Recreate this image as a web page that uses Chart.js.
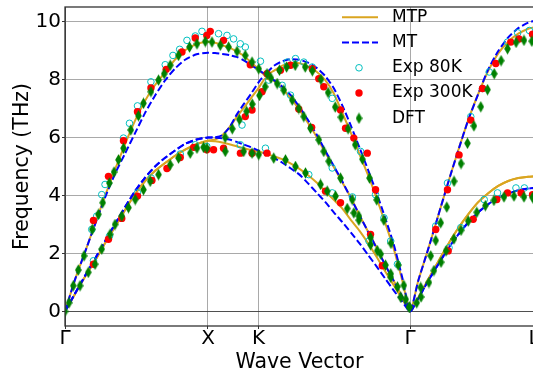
<!DOCTYPE html>
<html><head><meta charset="utf-8">
<script src="https://cdn.jsdelivr.net/npm/chart.js@4.4.0/dist/chart.umd.min.js"></script>
<style>
html,body{margin:0;padding:0;overflow:hidden;background:#fff;width:533px;height:375px;}
canvas{display:block;}
</style></head><body>
<canvas id="c" width="545" height="375" style="width:545px;height:375px"></canvas>
<script>
// ---- axis ticks ----
const xTickPositions = [0, 1, 1.3536, 2.4142, 3.2802];
const xTickLabels = ['Γ', 'X', 'K', 'Γ', 'L'];
const yTickValues = [0, 2, 4, 6, 8, 10];

// ---- wave-vector path samples (Γ-X, X-K, K-Γ, Γ-L) ----
const kPath = [0, 0.07, 0.14, 0.21, 0.28, 0.35, 0.42, 0.49, 0.56, 0.63, 0.70, 0.77, 0.84, 0.92, 1.0,
  1.05, 1.10, 1.15, 1.20, 1.25, 1.30, 1.3536,
  1.40, 1.46, 1.52, 1.58, 1.64, 1.70, 1.76, 1.82, 1.88, 1.94, 2.00, 2.06, 2.12, 2.18, 2.24, 2.30, 2.36, 2.4142,
  2.47, 2.54, 2.61, 2.68, 2.75, 2.82, 2.89, 2.96, 3.03, 3.10, 3.17, 3.24, 3.2802];

// ---- MTP bands (THz) ----
const mtpBand1 = [0, 0.6, 1.2, 1.75, 2.35, 2.92, 3.5, 4.05, 4.5, 4.85, 5.12, 5.37, 5.58, 5.77, 5.89,
  5.87, 5.83, 5.77, 5.7, 5.63, 5.57, 5.52,
  5.45, 5.35, 5.25, 5.1, 4.92, 4.7, 4.45, 4.15, 3.85, 3.55, 3.15, 2.78, 2.35, 1.88, 1.38, 0.9, 0.42, 0,
  0.47, 1.1, 1.72, 2.32, 2.87, 3.35, 3.77, 4.08, 4.33, 4.5, 4.6, 4.65, 4.66];
const mtpBand2 = [0, 0.6, 1.2, 1.75, 2.35, 2.92, 3.5, 4.05, 4.5, 4.85, 5.12, 5.37, 5.58, 5.77, 5.89,
  5.93, 6.08, 6.35, 6.7, 7.02, 7.35, 7.7,
  8.03, 7.95, 7.68, 7.35, 6.95, 6.5, 6.02, 5.48, 4.98, 4.45, 3.92, 3.32, 2.75, 2.2, 1.6, 1.05, 0.5, 0,
  0.47, 1.1, 1.72, 2.32, 2.87, 3.35, 3.77, 4.08, 4.33, 4.5, 4.6, 4.65, 4.66];
const mtpBand3 = [0, 1.1, 2.05, 3.02, 3.99, 4.9, 5.77, 6.58, 7.27, 7.81, 8.25, 8.69, 9.01, 9.22, 9.3,
  9.27, 9.18, 9.1, 8.97, 8.82, 8.6, 8.35,
  8.15, 8.3, 8.48, 8.57, 8.56, 8.45, 8.27, 7.98, 7.52, 6.85, 6.15, 5.42, 4.7, 3.9, 3.05, 2.15, 1.05, 0,
  1.05, 2.15, 3.3, 4.45, 5.55, 6.6, 7.5, 8.3, 8.9, 9.3, 9.58, 9.75, 9.8];

// ---- MT bands (THz) ----
const mtBand1 = [0, 0.62, 1.23, 1.82, 2.42, 3.02, 3.6, 4.15, 4.62, 5.0, 5.3, 5.55, 5.78, 5.93, 6.0,
  5.99, 5.97, 5.93, 5.85, 5.76, 5.67, 5.55,
  5.45, 5.3, 5.13, 4.93, 4.72, 4.42, 4.1, 3.78, 3.42, 3.08, 2.72, 2.35, 1.95, 1.55, 1.13, 0.72, 0.33, 0,
  0.45, 1.05, 1.62, 2.17, 2.65, 3.07, 3.42, 3.7, 3.92, 4.07, 4.18, 4.24, 4.26];
const mtBand2 = [0, 0.62, 1.23, 1.82, 2.42, 3.02, 3.6, 4.15, 4.62, 5.0, 5.3, 5.55, 5.78, 5.93, 6.0,
  6.01, 6.08, 6.35, 6.78, 7.15, 7.5, 7.9,
  8.15, 7.98, 7.75, 7.45, 7.05, 6.6, 6.1, 5.55, 5.02, 4.48, 3.9, 3.32, 2.75, 2.18, 1.6, 1.05, 0.5, 0,
  0.45, 1.05, 1.62, 2.17, 2.65, 3.07, 3.42, 3.7, 3.92, 4.07, 4.18, 4.24, 4.26];
const mtBand3 = [0, 1.1, 2.05, 3.0, 3.93, 4.75, 5.45, 6.15, 6.85, 7.45, 7.97, 8.38, 8.68, 8.87, 8.92,
  8.91, 8.88, 8.84, 8.78, 8.66, 8.5, 8.33,
  8.2, 8.47, 8.63, 8.7, 8.68, 8.58, 8.4, 8.12, 7.7, 7.1, 6.4, 5.65, 4.88, 4.08, 3.22, 2.3, 1.15, 0,
  1.05, 2.15, 3.3, 4.45, 5.55, 6.6, 7.5, 8.35, 8.98, 9.45, 9.77, 9.96, 10.02];

// ---- Exp 80K ----
const exp80kX = [0.187, 0.222, 0.257, 0.280, 0.409, 0.451, 0.507, 0.601, 0.701, 0.755, 0.802, 0.853, 0.911, 0.958,
  0.199, 0.311, 0.507, 0.603, 0.806, 0.911, 0.992,
  1.074, 1.133, 1.179, 1.226, 1.261, 1.367,
  1.238, 1.425, 1.554, 1.612, 1.670, 1.729, 1.869, 2.067, 2.172, 2.231, 2.278, 2.325,
  1.519, 1.577, 1.869, 2.010,
  1.226, 1.402, 1.705, 1.869, 2.126,
  2.593, 2.675, 2.838, 2.920, 2.967, 3.095, 3.166, 3.248,
  2.686, 2.768, 2.932, 3.025, 3.154, 3.213];
const exp80kY = [2.83, 3.29, 4.03, 4.38, 5.98, 6.49, 7.09, 7.92, 8.51, 8.83, 9.04, 9.35, 9.5, 9.66,
  1.75, 2.6, 4.09, 4.6, 5.43, 5.75, 5.69,
  9.58, 9.52, 9.4, 9.23, 9.12, 8.63,
  6.43, 7.98, 8.6, 8.72, 8.6, 8.43, 7.35, 5.52, 4.03, 3.23, 2.43, 1.63,
  7.8, 7.46, 4.95, 3.95,
  5.75, 5.63, 4.72, 4.09, 2.43,
  2.95, 4.43, 6.72, 7.69, 8.26, 9.29, 9.61, 9.69,
  2.2, 2.89, 3.86, 4.09, 4.26, 4.26];

// ---- Exp 300K ----
const exp300kX = [0.199, 0.304, 0.409, 0.507, 0.601, 0.708, 0.818, 0.911, 0.992, 1.016, 1.109,
  0.199, 0.304, 0.397, 0.507, 0.608, 0.713, 0.806, 0.900, 0.992, 1.039,
  1.109, 1.227, 1.308, 1.413, 1.822, 1.927,
  1.296, 1.413, 1.635, 1.725, 2.137, 2.219,
  1.261, 1.308, 1.378, 1.507, 1.577, 1.729, 1.775, 1.810, 1.927, 1.962, 2.020, 2.114, 2.172,
  2.593, 2.675, 2.756, 2.838, 2.920, 3.013, 3.118, 3.175, 3.270,
  2.680, 2.855, 3.020, 3.095, 3.190, 3.270];
const exp300kY = [3.14, 4.66, 5.89, 6.89, 7.71, 8.35, 8.95, 9.43, 9.52, 9.66, 9.35,
  1.63, 2.49, 3.21, 3.98, 4.52, 4.93, 5.31, 5.66, 5.58, 5.58,
  5.63, 5.46, 5.46, 5.46, 4.15, 3.75,
  8.51, 8.2, 6.98, 6.35, 2.66, 1.58,
  6.72, 6.95, 7.58, 8.32, 8.49, 8.37, 8.03, 7.75, 6.95, 6.32, 5.98, 5.46, 4.2,
  2.83, 4.2, 5.4, 6.6, 7.69, 8.55, 9.29, 9.4, 9.56,
  2.09, 3.18, 3.86, 4.09, 4.09, 4.03];

// ---- DFT ----
const dftX = [0.058, 0.093, 0.133, 0.191, 0.233, 0.264, 0.310, 0.343, 0.374, 0.409, 0.460, 0.514, 0.549, 0.601, 0.654, 0.694, 0.736, 0.794, 0.871, 0.923, 0.981,
  0, 0.028, 0.105, 0.163, 0.210, 0.257, 0.315, 0.350, 0.397, 0.444, 0.491, 0.549, 0.596, 0.654, 0.736, 0.794, 0.876, 0.923, 0.969,
  1.028, 1.086, 1.144, 1.203, 1.261, 1.308, 1.355, 1.413, 1.484, 1.530, 1.589, 1.635, 1.670, 1.717, 1.775, 1.810, 1.845, 1.927, 2.009, 2.055, 2.137, 2.208, 2.278, 2.348, 2.406,
  1.12, 1.17, 1.22, 1.27, 1.31, 1.36, 1.40, 1.44, 1.50, 1.55, 1.61, 1.68,
  1.73, 1.79, 1.84, 1.89, 1.93, 1.98, 2.03, 2.08, 2.13, 2.18, 2.23, 2.28, 2.33, 2.37, 2.41,
  0.992, 1.121, 1.250, 1.308, 1.355, 1.460, 1.542, 1.612, 1.682, 1.787, 1.834, 1.892, 1.974, 2.020, 2.055, 2.137, 2.184, 2.242, 2.278, 2.325, 2.383,
  2.488, 2.558, 2.593, 2.628, 2.670, 2.721, 2.770, 2.815, 2.860, 2.908, 2.955, 3.002, 3.050, 3.095, 3.155, 3.210, 3.265,
  2.46, 2.49, 2.545, 2.58, 2.63, 2.665, 2.72, 2.77, 2.82, 2.88, 2.94, 3.00, 3.07, 3.14, 3.21, 3.27];
const dftY = [0.89, 1.43, 1.92, 2.83, 3.35, 3.75, 4.43, 4.81, 5.23, 5.63, 6.26, 6.75, 7.18, 7.58, 7.98, 8.2, 8.49, 8.83, 9.12, 9.23, 9.31,
  0, 0.3, 0.89, 1.35, 1.63, 2.15, 2.66, 3.0, 3.29, 3.58, 3.86, 4.2, 4.49, 4.72, 5.06, 5.29, 5.46, 5.63, 5.66,
  9.29, 9.18, 9.12, 8.97, 8.83, 8.6, 8.37, 8.2, 7.86, 7.63, 7.29, 7.0, 6.72, 6.32, 5.92, 5.52, 5.18, 4.6, 3.86, 3.29, 2.55, 1.98, 1.18, 0.49, 0.15,
  6.0, 6.3, 6.62, 6.9, 7.15, 7.45, 7.75, 8.05, 8.32, 8.43, 8.49, 8.43,
  8.3, 8.0, 7.55, 7.05, 6.7, 6.3, 5.75, 5.25, 4.6, 3.85, 3.15, 2.35, 1.6, 0.9, 0.15,
  5.63, 5.52, 5.52, 5.46, 5.41, 5.29, 5.23, 5.0, 4.78, 4.38, 4.15, 3.98, 3.55, 3.4, 3.15, 2.3, 2.1, 1.6, 1.3, 0.85, 0.42,
  0.83, 1.92, 2.45, 3.06, 3.6, 4.49, 5.1, 5.8, 6.4, 7.06, 7.65, 8.2, 8.65, 9.06, 9.28, 9.35, 9.32,
  0.3, 0.5, 1.0, 1.41, 1.7, 2.09, 2.5, 2.8, 3.12, 3.42, 3.65, 3.83, 3.95, 3.98, 3.95, 3.93];

// ---- styling ----
const FONT = 'DejaVu Sans';
const C_MTP = '#DAA520', C_MT = '#0000FF', C_80 = '#00BFBF', C_300 = '#FF0000', C_DFT = '#008000';
Chart.defaults.font.family = FONT;
Chart.defaults.color = '#000';

function thinDiamond(color) {
  const c = document.createElement('canvas');
  c.width = 7; c.height = 12;
  const g = c.getContext('2d');
  g.fillStyle = color;
  g.beginPath();
  g.moveTo(3.5, 0.3); g.lineTo(6.8, 6); g.lineTo(3.5, 11.7); g.lineTo(0.2, 6);
  g.closePath(); g.fill();
  return c;
}
const diamondImg = thinDiamond(C_DFT);

const toXY = (xs, ys) => xs.map((x, i) => ({x: x, y: ys[i]}));
const bandXY = (band) => kPath.map((x, i) => ({x: x, y: band[i]}));

const lineDs = (band, color, dash, order) => ({
  data: bandXY(band), showLine: true, borderColor: color, borderWidth: 2,
  borderDash: dash, pointRadius: 0, tension: 0.2, order: order
});

const datasets = [
  lineDs(mtpBand1, C_MTP, [], 4), lineDs(mtpBand2, C_MTP, [], 4), lineDs(mtpBand3, C_MTP, [], 4),
  lineDs(mtBand1, C_MT, [7, 3], 3), lineDs(mtBand2, C_MT, [7, 3], 3), lineDs(mtBand3, C_MT, [7, 3], 3),
  {data: toXY(exp80kX, exp80kY), showLine: false, pointStyle: 'circle', pointRadius: 3.3,
   pointBorderColor: C_80, pointBackgroundColor: 'rgba(0,0,0,0)', pointBorderWidth: 1, order: 2},
  {data: toXY(exp300kX, exp300kY), showLine: false, pointStyle: 'circle', pointRadius: 3.7,
   pointBorderColor: C_300, pointBackgroundColor: C_300, pointBorderWidth: 0, order: 1},
  {data: toXY(dftX, dftY), showLine: false, pointStyle: diamondImg, pointRadius: 6, order: 0}
];

const framePlugin = {
  id: 'frame',
  afterDatasetsDraw(chart) {
    const {ctx, chartArea: a} = chart;
    ctx.save();
    ctx.strokeStyle = '#333'; ctx.lineWidth = 1.3; ctx.setLineDash([]);
    ctx.strokeRect(a.left, a.top, a.right - a.left, a.bottom - a.top);
    ctx.restore();
  }
};

const legendItems = [
  {label: 'MTP', kind: 'line', color: C_MTP, dash: []},
  {label: 'MT', kind: 'line', color: C_MT, dash: [7, 3]},
  {label: 'Exp 80K', kind: 'open', color: C_80},
  {label: 'Exp 300K', kind: 'dot', color: C_300},
  {label: 'DFT', kind: 'diamond', color: C_DFT}
];
const legendPlugin = {
  id: 'manualLegend',
  afterDraw(chart) {
    const ctx = chart.ctx;
    ctx.save();
    ctx.font = '17px "' + FONT + '"';
    ctx.textBaseline = 'middle';
    ctx.textAlign = 'left';
    legendItems.forEach((it, i) => {
      const y = 17.3 + i * 25.25;
      const mx = 359;
      if (it.kind === 'line') {
        ctx.strokeStyle = it.color; ctx.lineWidth = 2; ctx.setLineDash(it.dash);
        ctx.beginPath(); ctx.moveTo(342, y); ctx.lineTo(378, y); ctx.stroke();
        ctx.setLineDash([]);
      } else if (it.kind === 'open') {
        ctx.strokeStyle = it.color; ctx.lineWidth = 1;
        ctx.beginPath(); ctx.arc(mx, y, 3.3, 0, Math.PI * 2); ctx.stroke();
      } else if (it.kind === 'dot') {
        ctx.fillStyle = it.color;
        ctx.beginPath(); ctx.arc(mx, y, 3.7, 0, Math.PI * 2); ctx.fill();
      } else {
        ctx.drawImage(diamondImg, mx - diamondImg.width / 2, y - diamondImg.height / 2);
      }
      ctx.fillStyle = '#000';
      ctx.fillText(it.label, 392, y);
    });
    ctx.restore();
  }
};

const gridColor = (c) => (c.tick && c.tick.value === 0) ? 'rgba(60,60,60,0.9)' : 'rgba(140,140,140,0.75)';

new Chart(document.getElementById('c'), {
  type: 'scatter',
  data: {datasets: datasets},
  options: {
    responsive: false, animation: false, devicePixelRatio: 1,
    layout: {padding: {left: 0, top: 5, right: 11, bottom: 0}},
    plugins: {legend: {display: false}, tooltip: {enabled: false}},
    scales: {
      x: {
        type: 'linear', min: 0, max: 3.2802,
        afterBuildTicks: (s) => { s.ticks = xTickPositions.map(v => ({value: v})); },
        afterFit: (s) => { s.height = 49; s.paddingLeft = 0; s.paddingRight = 0; },
        ticks: {autoSkip: false, maxRotation: 0, minRotation: 0, padding: 0,
                font: {size: 20, lineHeight: 1}, color: '#000',
                callback: (v, i) => xTickLabels[i]},
        grid: {color: gridColor, lineWidth: 1, borderDash: [1, 2], drawTicks: true,
               tickLength: 3, tickColor: '#333', tickWidth: 1, tickBorderDash: []},
        border: {display: false},
        title: {display: true, text: 'Wave Vector', font: {size: 20.5, lineHeight: 1.2},
                color: '#000', padding: {top: 0, bottom: 0}}
      },
      y: {
        type: 'linear', min: -0.5, max: 10.5,
        afterBuildTicks: (s) => { s.ticks = yTickValues.map(v => ({value: v})); },
        afterFit: (s) => { s.width = 65; s.paddingTop = 0; s.paddingBottom = 0; },
        ticks: {padding: 1, font: {size: 20, lineHeight: 1}, color: '#000',
                callback: (v) => String(v)},
        grid: {color: gridColor, lineWidth: 1, borderDash: [1, 2], drawTicks: true,
               tickLength: 3, tickColor: '#333', tickWidth: 1, tickBorderDash: []},
        border: {display: false},
        title: {display: true, text: 'Frequency (THz)', font: {size: 20.5, lineHeight: 1.2},
                color: '#000', padding: {top: 10, bottom: 0}}
      }
    }
  },
  plugins: [framePlugin, legendPlugin]
});
</script>
</body></html>
